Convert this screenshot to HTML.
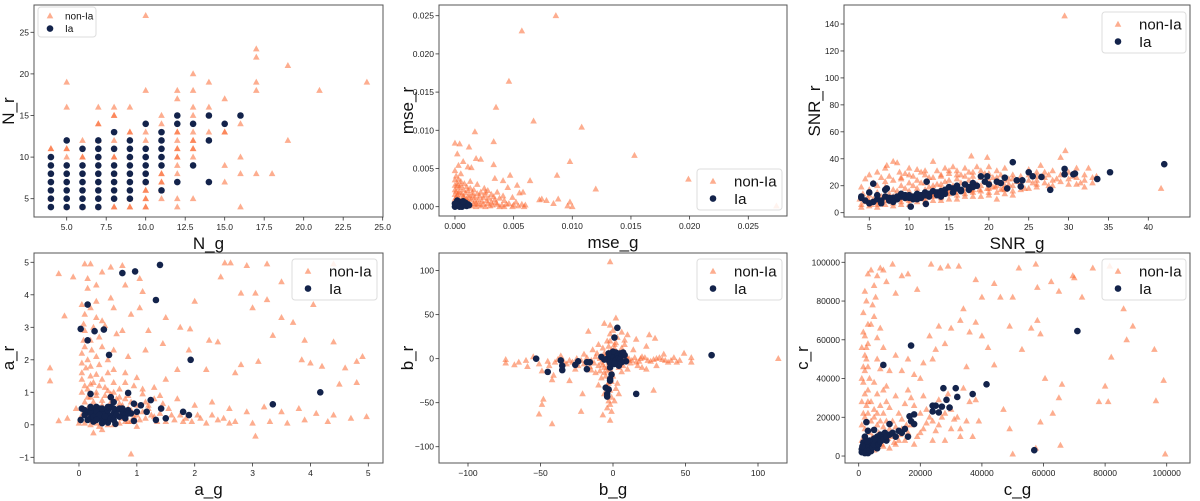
<!DOCTYPE html>
<html><head><meta charset="utf-8">
<style>
html,body{margin:0;padding:0;background:#fff;}
svg{display:block;font-family:"Liberation Sans","DejaVu Sans",sans-serif;}
</style></head>
<body>
<svg id="fig" width="1200" height="501" viewBox="0 0 1200 501"></svg>
<script>
// ---------- Panel 1: N_g vs N_r ----------
const p1NonIa = [[4,11],[5,19],[5,16],[5,11],[5,10],[6,12],[6,10],[7,16],[7,14],[7,12],[7,10],[8,16],[8,15],[8,12],[8,10],[8,4],[9,16],[9,13],[9,4],[10,27],[10,18],[10,13],[10,12],[10,6],[10,5],[10,4],[11,15],[11,14],[11,8],[11,7],[11,5],[12,18],[12,17],[12,13],[12,12],[12,11],[12,10],[12,9],[12,8],[12,5],[12,4],[13,20],[13,18],[13,16],[13,15],[13,13],[13,12],[13,11],[13,10],[13,5],[14,19],[14,16],[14,13],[15,17],[15,13],[15,9],[15,7],[16,14],[16,10],[16,8],[16,4],[17,23],[17,22],[17,19],[17,18],[17,8],[18,8],[19,21],[19,12],[21,18],[24,19],[5,4],[6,4],[7,4],[4,5],[9,5],[10,7],[11,6],[8,8],[9,10],[8,15],[8,4],[9,4],[10,6],[10,5],[11,8],[11,7],[12,13],[12,11],[12,10],[13,11],[13,12],[15,13],[7,14],[6,10],[5,11],[4,11],[8,10],[10,4],[9,13]];
const p1Ia = [[4,4],[4,5],[4,6],[4,7],[4,8],[4,9],[4,10],[5,4],[5,5],[5,6],[5,7],[5,8],[5,9],[5,12],[6,4],[6,5],[6,6],[6,7],[6,8],[6,9],[6,11],[7,4],[7,5],[7,6],[7,7],[7,8],[7,9],[7,10],[7,11],[7,12],[8,5],[8,6],[8,7],[8,8],[8,9],[8,11],[8,13],[9,5],[9,6],[9,7],[9,8],[9,9],[9,10],[9,11],[9,12],[10,7],[10,8],[10,9],[10,10],[10,11],[10,14],[11,6],[11,9],[11,10],[11,11],[11,12],[11,13],[12,7],[12,14],[12,15],[13,9],[13,14],[14,7],[14,12],[14,15],[15,14],[16,15]];
const p1XTicks = [5,7.5,10,12.5,15,17.5,20,22.5,25];
const p1XTickLabels = ["5.0","7.5","10.0","12.5","15.0","17.5","20.0","22.5","25.0"];
const p1YTicks = [5,10,15,20,25];

// ---------- Panel 2: mse_g vs mse_r ----------
const p2NonIa = [[0.0086,0.025],[0.0057,0.023],[0.0046,0.0164],[0.0035,0.013],[0.0067,0.0112],[0.0108,0.0104],[0.0017,0.0098],[0.0033,0.0085],[0.0,0.0083],[0.0004,0.0082],[0.0012,0.0078],[0.0002,0.0069],[0.0153,0.0067],[0.0018,0.0063],[0.0022,0.0062],[0.0007,0.0059],[0.0098,0.0059],[0.0033,0.0055],[0.0003,0.0054],[0.0011,0.0052],[0.0014,0.0051],[0.0,0.0047],[0.0047,0.0041],[0.0087,0.0041],[0.0199,0.0036],[0.0064,0.0034],[0.0041,0.0034],[0.0034,0.0037],[0.012,0.0023],[0.0074,0.001],[0.0072,0.0009],[0.0078,0.0008],[0.0088,0.001],[0.0084,0.0004],[0.0098,0.0006],[0.01,0.0],[0.0096,0.0001],[0.0274,0.0001],[0.0058,0.0019],[0.0055,0.0018],[0.0053,0.0028],[0.0045,0.0025],[0.0049,0.0012],[0.0052,0.0006],[0.006,0.0002],[0.0059,0.0],[0.0049,0.0]];
const p2NonIaDense = [[0.0001,0.004],[0.0003,0.0036],[0.0005,0.0033],[0.0008,0.003],[0.0002,0.003],[0.001,0.0026],[0.0013,0.0024],[0.0016,0.0022],[0.0004,0.0025],[0.0007,0.0022],[0.0001,0.002],[0.0003,0.0018],[0.0006,0.0016],[0.0009,0.0018],[0.0012,0.0015],[0.0015,0.0014],[0.0019,0.0017],[0.0022,0.0019],[0.0025,0.0024],[0.0028,0.0021],[0.0031,0.0016],[0.0024,0.0012],[0.002,0.0009],[0.0017,0.0007],[0.0014,0.0009],[0.001,0.001],[0.0006,0.0008],[0.0003,0.0011],[0.0001,0.0012],[0.0004,0.0004],[0.0008,0.0004],[0.0012,0.0004],[0.0016,0.0003],[0.002,0.0003],[0.0024,0.0003],[0.0028,0.0004],[0.0032,0.0002],[0.0036,0.0003],[0.004,0.0002],[0.0044,0.0003],[0.0034,0.0009],[0.0038,0.0011],[0.0042,0.0008],[0.0027,0.0008],[0.0002,0.0001],[0.0006,0.0001],[0.001,0.0001],[0.0014,0.0001],[0.0018,0.0],[0.0022,0.0001],[0.0026,0.0],[0.003,0.0001],[0.0002,0.0027],[0.0005,0.0043],[0.0013,0.0033],[0.0019,0.0029],[0.0026,0.0015],[0.0036,0.0019],[0.0041,0.0014],[0.0,0.0035],[0.0,0.0028],[0.0,0.0022],[0.0,0.0016],[0.0,0.001],[0.0001,0.0006],[0.0002,0.0015],[0.0004,0.0019],[0.0005,0.0028],[0.0007,0.0013],[0.0009,0.0007],[0.0011,0.0021],[0.0012,0.0011],[0.0015,0.0018],[0.0017,0.0012],[0.0018,0.0004],[0.0021,0.0014],[0.0023,0.0007],[0.0026,0.0019],[0.0029,0.0011],[0.0031,0.0006],[0.0033,0.0013],[0.0035,0.0005],[0.0038,0.0],[0.0042,0.0],[0.0046,0.0004],[0.005,0.0002],[0.0054,0.0001],[0.0057,0.0003],[0.0003,0.0007],[0.0008,0.0012],[0.0006,0.0004],[0.0011,0.0006]];
const p2Ia = [[0.0,0.0],[0.0001,0.0002],[0.0002,0.0005],[0.0003,0.0001],[0.0004,0.0003],[0.0005,0.0006],[0.0006,0.0],[0.0007,0.0004],[0.0008,0.0002],[0.0009,0.0005],[0.001,0.0001],[0.0011,0.0003],[0.0002,0.0008],[0.0,0.0004],[0.0007,0.0007],[0.0004,0.0],[0.0012,0.0002]];
const p2XTicks = [0,0.005,0.01,0.015,0.02,0.025];
const p2XTickLabels = ["0.000","0.005","0.010","0.015","0.020","0.025"];
const p2YTicks = [0,0.005,0.01,0.015,0.02,0.025];
const p2YTickLabels = ["0.000","0.005","0.010","0.015","0.020","0.025"];

// ---------- Panel 3: SNR_g vs SNR_r ----------
const p3NonIa = [[29.5,146],[29.6,46],[29,41],[41.6,18],[17.8,42],[19.8,41],[8,38],[13,38],[4,19],[4.5,25],[5,28],[5.5,22],[6,30],[6.5,26],[7,33],[7.2,35],[7.5,27],[8.5,37],[8.8,30],[9,25],[9.5,29],[10,33],[10.5,27],[11,32],[11.5,30],[12,28],[12.5,26],[13.5,31],[14,27],[14.5,33],[15,29],[15.5,34],[16,31],[16.5,28],[17,33],[17.5,30],[18,27],[18.5,34],[19,31],[19.5,29],[20,34],[20.5,26],[21,31],[21.5,28],[22,33],[22.5,25],[23,28],[24,27],[25,32],[26,30],[26.5,35],[27,26],[28,31],[28.5,25],[29,28],[30,30],[30.5,27],[31,33],[31.5,22],[32,28],[32.5,33],[33,26],[33.5,27],[32,19],[31,21],[27.5,20],[25.5,22],[24,17],[22,20],[20,15],[19,12],[18,17],[16,10],[15,14],[14,9],[13,12],[12,8],[11,10],[10,6],[9,8],[8,5],[7,6],[6,4],[5,5],[4,4]];
const p3NonIaDense = [[4.5,8],[5.5,10],[6.5,12],[7.5,14],[8.5,16],[9.5,18],[10.5,20],[11.5,22],[12.5,19],[13.5,21],[14.5,23],[15.5,20],[16.5,22],[17.5,24],[18.5,21],[19.5,23],[20.5,19],[21.5,17],[22.5,21],[23.5,23],[24.5,18],[26,24],[27.5,28],[23,13],[21,10],[17,12],[15,16],[12,14],[9,11],[6,8],[8,9],[10,12],[11,15],[13,17],[14,18],[16,19],[18,20],[4,6],[5,8],[5,13],[5,17],[6,6],[6,15],[6,20],[7,9],[7,13],[7,19],[7,23],[8,7],[8,12],[8,17],[8,24],[9,6],[9,14],[9,20],[9,26],[10,9],[10,16],[10,22],[10,28],[11,8],[11,12],[11,18],[11,24],[12,10],[12,17],[12,22],[12,31],[13,9],[13,14],[13,20],[13,26],[14,11],[14,15],[14,21],[14,28],[15,10],[15,18],[15,24],[15,31],[16,13],[16,17],[16,25],[16,28],[17,14],[17,18],[17,27],[18,12],[18,15],[18,23],[18,30],[19,16],[19,20],[19,26],[20,13],[20,18],[20,24],[20,29],[21,15],[21,20],[21,26],[22,14],[22,17],[22,24],[23,16],[23,20],[23,25],[24,20],[24,23],[25,18],[25,24],[25,28],[26,19],[26,21],[26,27],[27,22],[27,30],[28,20],[28,24],[29,23],[30,25],[30,21],[31,26],[32,24],[33,22],[3.8,10],[4.2,14],[4.8,11],[5.2,6],[6.2,9],[6.8,11],[7.8,8],[8.8,10],[9.8,10],[10.8,11],[11.8,12],[12.8,13],[13.8,13],[14.8,14],[15.8,15],[16.8,16],[17.8,16],[18.8,17],[19.8,18],[20.8,19],[21.8,18]];
const p3Ia = [[23,37.5],[42,36],[35.2,30],[33.6,25],[29.5,32.5],[29.5,28.5],[30.6,28.5],[30.8,29],[25,30],[25.5,27],[26.6,26.5],[27.7,17],[24,19.5],[10.2,4.5],[5.5,21.5],[12.2,23],[12.1,6.5],[4,11],[4.5,9],[5,15],[5.5,8],[6,10],[6.5,7],[7,12],[7.5,9],[8,11],[8.5,10],[9,12],[9.5,11],[10,13],[10.5,12],[11,14],[11.5,13],[12,15],[12.5,14],[13,16],[13.5,15],[14,16],[14.5,17],[15,19],[15.5,18],[16,20],[16.5,17],[17,21],[17.5,19],[18,22],[18.5,20],[19,27],[19.5,23],[19.8,27],[20,21],[21,23],[21.5,22],[22,26],[22.3,18],[23.5,24],[24.2,24],[9,14],[7,17],[7.2,18],[6,13],[5,7],[14,12],[11,10],[4,12],[6.5,9],[7.5,11],[8.5,12],[9.5,13],[10.5,10],[11.5,11],[12.5,12],[13.5,13],[14.5,14],[15.5,15],[16.5,16],[17.5,17],[8,8],[10,11],[12,13],[14,15],[16,18],[18,19]];
const p3XTicks = [5,10,15,20,25,30,35,40];
const p3YTicks = [0,20,40,60,80,100,120,140];

// ---------- Panel 4: a_g vs a_r ----------
const p4NonIa = [[-0.5,1.75],[-0.5,1.35],[-0.35,4.65],[-0.25,3.35],[-0.1,4.55],[-0.35,0.12],[-0.2,0.2],[-0.05,0.5],[0.1,4.95],[0.2,4.95],[0.15,4.5],[0.3,4.3],[0.4,4.7],[0.55,4.85],[0.75,4.9],[0.8,4.3],[1.05,4.5],[1.1,4.1],[0.55,3.9],[0.2,3.6],[0.3,3.3],[0.45,3.05],[0.6,3.6],[0.75,2.9],[0.9,3.4],[1.05,3.6],[1.2,2.9],[0.35,2.7],[0.1,2.4],[0.3,2.1],[0.6,2.3],[0.85,2.1],[1.15,2.3],[1.45,2.5],[1.5,3.3],[1.75,3.0],[2.0,3.8],[1.92,2.95],[1.9,2.3],[2.25,2.6],[2.4,2.55],[2.45,4.55],[2.52,4.98],[2.62,4.98],[2.9,4.9],[2.8,4.05],[3.0,3.6],[3.05,4.05],[3.25,4.95],[3.25,3.85],[3.35,2.75],[3.5,3.3],[3.5,4.4],[3.7,3.15],[3.85,2.0],[4.05,3.7],[4.4,4.95],[4.4,2.55],[3.9,2.6],[4.2,1.8],[4.6,1.75],[4.8,1.95],[4.9,2.1],[4.8,1.3],[4.5,1.25],[4.0,1.9],[3.1,1.95],[2.7,1.6],[2.8,1.85],[2.2,1.7],[1.7,1.7],[1.5,1.4],[1.3,1.15],[1.0,1.45],[0.8,1.6],[0.5,1.6],[0.2,1.5],[0.05,1.9],[0.1,1.2],[0.3,1.0],[0.6,1.3],[0.85,0.9],[1.15,0.7],[1.4,0.9],[1.7,0.8],[2.0,0.6],[2.3,0.7],[2.6,0.5],[2.9,0.4],[3.2,0.55],[3.5,0.4],[3.8,0.5],[4.1,0.35],[4.4,0.3],[4.7,0.2],[4.97,0.25],[4.3,0.1],[3.9,0.15],[3.6,0.05],[3.3,0.1],[3.0,0.05],[3.05,-0.35],[2.7,0.1],[2.4,0.15],[2.1,0.2],[1.8,0.1],[1.6,0.3],[1.3,0.25],[1.0,0.3],[0.9,-0.9],[0.8,0.1],[0.6,0.0],[0.4,-0.15],[0.25,-0.25]];
const p4NonIaDense = [[0.1,0.7],[0.2,0.85],[0.4,0.75],[0.55,0.95],[0.7,0.65],[1.1,0.95],[0.05,0.3],[0.0,0.05],[0.15,0.5],[0.35,0.45],[0.5,0.35],[0.65,0.45],[0.9,0.45],[1.2,0.5],[0.1,2.9],[0.05,3.7],[0.25,3.0],[0.4,2.4],[0.15,2.0],[0.05,1.0],[0.15,0.85],[0.25,1.3],[0.45,1.15],[0.7,0.85],[0.05,1.4],[0.05,1.6],[0.05,2.2],[0.08,2.6],[0.08,3.1],[0.1,3.4],[0.12,1.75],[0.15,1.1],[0.2,1.25],[0.2,1.8],[0.22,2.3],[0.25,0.7],[0.3,1.55],[0.3,0.9],[0.35,1.2],[0.4,1.4],[0.4,0.6],[0.45,0.9],[0.5,1.05],[0.55,0.7],[0.6,1.0],[0.65,0.8],[0.7,1.1],[0.75,0.6],[0.8,0.8],[0.85,0.5],[0.9,0.7],[0.95,0.25],[1.0,0.6],[1.05,0.15],[1.1,0.4],[1.15,0.2],[1.25,0.3],[1.35,0.1],[1.4,0.35],[1.5,0.1],[1.55,0.5],[1.65,0.15],[1.75,0.3],[1.85,0.2],[1.95,0.1],[2.05,0.3],[2.2,0.05],[2.3,0.3],[2.5,0.2],[2.6,0.05],[0.02,0.15],[0.1,0.05],[0.2,0.0],[0.3,0.05],[0.35,-0.05],[0.5,0.0],[0.55,0.15],[0.7,0.05],[0.75,0.2],[0.85,0.1],[1.0,-0.05],[0.15,0.3],[0.3,0.25],[0.45,0.2],[0.6,0.2],[0.75,0.35],[0.9,0.1],[1.2,0.6],[1.45,0.65],[1.3,0.8],[0.95,1.2],[1.1,1.1],[0.8,1.3],[0.6,1.7],[0.35,1.85],[0.2,2.6],[0.3,3.8],[0.15,4.2],[0.5,2.0],[0.4,3.2],[0.65,2.8]];
const p4Ia = [[0.75,4.67],[0.97,4.72],[1.4,4.92],[1.33,3.84],[0.15,3.7],[0.03,2.95],[0.27,2.88],[0.43,2.93],[0.15,2.6],[0.52,2.15],[1.93,2.0],[4.17,1.0],[3.35,0.63],[0.2,0.95],[0.85,0.98],[1.24,0.76],[1.42,0.5],[1.8,0.4],[1.9,0.3],[1.33,0.15],[1.5,0.2],[0.63,0.03],[0.05,0.5],[0.03,0.15],[0.1,0.3],[0.15,0.4],[0.2,0.2],[0.25,0.45],[0.3,0.3],[0.35,0.5],[0.4,0.2],[0.45,0.4],[0.5,0.3],[0.55,0.55],[0.6,0.35],[0.65,0.45],[0.7,0.25],[0.75,0.4],[0.8,0.3],[0.85,0.45],[0.9,0.35],[0.95,0.65],[1.0,0.4],[1.07,0.6],[1.17,0.4],[0.3,0.55],[0.4,0.05],[0.5,0.07],[0.55,0.85],[0.6,0.7],[0.15,0.15],[0.25,0.1],[0.35,0.2],[0.45,0.15],[0.95,0.12],[0.7,0.5],[0.2,0.35],[0.3,0.4],[0.4,0.35],[0.5,0.45],[0.6,0.5],[0.25,0.25],[0.35,0.3],[0.45,0.25],[0.55,0.2],[0.65,0.3],[0.75,0.5],[0.85,0.35],[0.1,0.45],[0.2,0.55],[0.4,0.5],[0.5,0.55],[0.3,0.15],[0.6,0.15],[0.8,0.2]];
const p4XTicks = [0,1,2,3,4,5];
const p4YTicks = [-1,0,1,2,3,4,5];

// ---------- Panel 5: b_g vs b_r ----------
const p5NonIa = [[-2,110],[-74,-1],[-74,-5],[-68,-7],[-59,-9],[-51,-6],[-49,-14],[-48,-46],[-49,-52],[-51,-63],[-41,-19],[-42,-24],[-42,-74],[-17,31],[-15,-13],[-21,-40],[-22,-60],[-7,-64],[-2,-70],[-1,-60],[2,46],[-2,38],[10,27],[8,21],[16,22],[25,27],[29,23],[23,14],[49,6],[54,1],[54,-4],[40,-2],[36,-2],[28,-36],[23,-12],[114,0],[-30,-25],[-10,-30],[-6,-40],[4,-40],[-3,-48]];
const p5NonIaDense = [[-60,-2],[-45,-3],[-38,-1],[-30,-2],[-25,0],[-20,-6],[-15,-2],[-12,2],[-10,-8],[-8,-4],[-6,6],[-4,-10],[-2,3],[0,-5],[2,8],[4,-3],[6,12],[8,2],[10,-1],[12,-5],[15,1],[18,-3],[20,2],[24,-2],[28,-1],[32,1],[30,-8],[20,-10],[14,10],[-4,20],[-2,28],[-3,14],[1,16],[3,24],[-5,-20],[-3,-28],[-2,-36],[-6,-16],[-12,-16],[-14,10],[-20,5],[-32,-6],[-36,3],[-44,-8],[-26,-12],[-8,-22],[-1,-44],[3,-28],[6,-15],[10,-12],[-10,16],[6,30],[-6,40],[0,32],[35,5],[44,-4],[17,-8],[-55,2],[-65,-4],[-40,-4],[-34,-3],[-28,-4],[-22,-2],[-18,1],[-13,-5],[-9,0],[-7,-7],[-5,4],[-3,-4],[-1,0],[1,-2],[3,2],[5,-6],[7,5],[9,3],[11,0],[13,-2],[16,-4],[19,0],[22,1],[26,-3],[30,0],[34,-1],[38,-4],[42,1],[46,-2],[-1,10],[-3,7],[1,12],[-2,20],[2,18],[-4,-14],[-2,-12],[0,-20],[-1,-26],[-4,-30],[2,-34],[-6,-10],[-9,-14],[4,-10],[7,-8],[-16,-9],[-24,-8],[-11,6],[8,16],[-7,12],[-2,-52],[1,-48],[-4,-56]];
const p5Ia = [[-53,0],[-45,-15],[-36,-2],[-35,-8],[-35,-13],[-26,-7],[-24,-3],[-18,-4],[-18,-12],[-16,-4],[-8,2],[-3,-2],[-2,-10],[3,35],[1,24],[-1,-18],[-2,-23],[-2,-25],[-5,-33],[-4,-40],[-4,-43],[-3,-35],[16,-40],[68,4],[9,-3],[4,-8],[0,0],[1,3],[2,-2],[3,5],[4,1],[5,6],[6,3],[7,7],[8,4],[-1,4],[-2,-5],[-4,0],[-6,-1],[1,-6],[2,7],[5,-1],[0,8],[-3,6],[6,-4]];
const p5XTicks = [-100,-50,0,50,100];
const p5YTicks = [-100,-50,0,50,100];

// ---------- Panel 6: c_g vs c_r ----------
const p6NonIa = [[2000,85000],[1500,74000],[3000,94000],[4000,96000],[5000,88000],[6000,93000],[7000,97000],[8000,96000],[9000,90000],[11000,99000],[12000,84000],[14000,93000],[16000,94000],[19000,86000],[23500,99000],[26500,97000],[29000,98000],[32500,98000],[34000,76000],[38000,91000],[40000,82000],[44000,89000],[46000,82000],[50000,82000],[52000,97000],[57500,99000],[58000,87000],[62500,90000],[65000,85000],[69500,93000],[70000,92000],[72500,82000],[76000,97000],[81500,98000],[86000,76000],[89000,67000],[87000,60000],[82000,51000],[96000,55000],[99000,39000],[80000,36000],[81000,28000],[78000,28000],[96500,28500],[99500,1000],[65000,30000],[66000,37000],[63000,22000],[60500,40000],[59000,63000],[58000,70000],[56000,66000],[53000,55000],[49000,67000],[47000,24000],[50000,1000],[49000,14000],[57500,4000],[59000,17500],[65500,5500],[44000,47000],[42000,56000],[40000,62000],[38000,69000],[36000,64000],[35000,46000],[33000,70000],[30000,66000],[28000,58000],[26000,67000],[25000,55000],[24000,50000],[23000,62000],[21000,48000],[20000,40000],[18000,42000],[16000,50000],[14000,44000],[12000,52000],[10000,44000],[9000,36000],[8000,56000],[7000,66000],[6000,61000],[5000,72000],[4000,68000],[3000,58000],[2500,50000],[2000,44000],[1500,38000],[1000,56000],[1500,64000]];
const p6NonIaDense = [[3000,34000],[4000,28000],[5000,38000],[6000,32000],[7000,26000],[8000,22000],[9000,28000],[10000,25000],[11000,18000],[12000,31000],[13000,22000],[15000,27000],[16000,34000],[17000,30000],[18000,26000],[20000,22000],[21000,31000],[22000,17000],[23000,20000],[25000,13000],[26000,29000],[27000,20000],[29000,32000],[30000,24000],[31000,19000],[33000,14000],[34000,35000],[36000,28000],[38000,29000],[39000,18000],[37000,10000],[33000,10000],[28000,8000],[24000,8000],[20000,12000],[15000,8000],[12000,6000],[8000,5000],[5000,3000],[3000,2000],[1000,8000],[2000,20000],[1000,28000],[3500,12000],[6000,16000],[9000,11000],[14000,14000],[18000,6000],[4000,4500],[7000,9000],[2000,14000],[3000,22000],[1000,16000],[5000,20000],[10000,4000],[1000,40000],[1500,46000],[2000,52000],[2500,56000],[3000,46000],[3500,40000],[2000,32000],[2500,26000],[1500,22000],[3000,28000],[4000,18000],[5000,24000],[6000,22000],[7000,18000],[8000,15000],[9000,18000],[10000,14000],[11000,10000],[12000,15000],[13000,8000],[14000,19000],[16000,12000],[17000,16000],[19000,10000],[21000,14000],[22000,24000],[24000,18000],[26000,16000],[28000,22000],[30000,14000],[32000,20000],[35000,18000],[4500,10000],[6500,12000],[8500,8000],[2500,9000],[1500,5000],[3500,6000],[5500,7000],[7500,6000],[9500,9000],[11500,7000],[13500,11000],[15500,16000],[2000,62000],[3000,68000],[4500,78000],[5500,82000],[2500,80000],[7000,45000],[8000,34000],[6000,50000]];
const p6Ia = [[8000,47000],[17000,57000],[71000,64500],[41500,37000],[37000,32000],[31500,35000],[27500,35000],[32000,30500],[28500,29000],[24000,26000],[25000,26000],[27000,25500],[29500,25000],[24000,23000],[26000,22500],[57000,3000],[18000,21500],[16500,20500],[17000,18000],[18000,16500],[16000,10000],[10000,16500],[2500,17500],[5000,13500],[3000,13000],[1000,2000],[1500,4000],[2000,3000],[2500,6000],[3000,4000],[3500,8000],[4000,5000],[4500,7000],[5000,9000],[5500,6000],[6000,10000],[6500,8000],[7000,11000],[7500,9000],[8000,10000],[8500,12000],[9000,8000],[10000,11000],[11000,12000],[12000,10000],[13000,13000],[14000,12000],[15000,14000],[2000,10000],[1500,7000],[3000,1500],[4000,2500],[6000,4000],[2000,5500],[1000,3500],[1500,2500],[2000,1500],[2500,3500],[3000,5500],[3500,3000],[4000,7000],[4500,4500],[5000,6000],[5500,8000],[6500,6000],[7000,7500],[8000,8500],[9000,10000],[1200,5000],[2800,7500]];
const p6XTicks = [0,20000,40000,60000,80000,100000];
const p6YTicks = [0,20000,40000,60000,80000,100000];

// ---------- rendering ----------
const NS = "http://www.w3.org/2000/svg";
const svg = document.getElementById("fig");
function mk(tag, attrs, parent){
  const e = document.createElementNS(NS, tag);
  for (const k in attrs) e.setAttribute(k, attrs[k]);
  (parent||svg).appendChild(e);
  return e;
}
function linear(d0,d1,r0,r1){ return v => r0 + (v-d0)/(d1-d0)*(r1-r0); }

function panel(cfg){
  const g = mk("g",{});
  
  
  const {L,T,R,B} = cfg.box;
  const sx = linear(cfg.xd[0],cfg.xd[1],L,R);
  const sy = linear(cfg.yd[0],cfg.yd[1],B,T);
  const ptsG = mk("g",{},g);
  
  
  cfg.non.forEach(p=>{
    const x=sx(p[0]), y=sy(p[1]);
    const t = mk("polygon",{points:`${x},${y-3.6} ${x-3.3},${y+2.4} ${x+3.3},${y+2.4}`,fill:"#fb6a33","fill-opacity":"0.55"},ptsG);
    
    
  });
  const iaG = mk("g",{},g);
  
  
  cfg.ia.forEach(p=>{
    const c = mk("circle",{cx:sx(p[0]),cy:sy(p[1]),r:3.3,fill:"#13234b"},iaG);
    
    
  });
  const fr = mk("rect",{x:L,y:T,width:R-L,height:B-T,fill:"none",stroke:"#555","stroke-width":1},g);
  
  
  cfg.xt.forEach((v,i)=>{
    const x=sx(v);
    mk("line",{x1:x,y1:B,x2:x,y2:B+3.5,stroke:"#333","stroke-width":0.8},g);
    const t=mk("text",{x:x,y:B+13,"font-size":8.5,"text-anchor":"middle",fill:"#222"},g);
    t.textContent = cfg.xtl ? cfg.xtl[i] : String(v).replace("-","\u2212");
    
    
  });
  cfg.yt.forEach((v,i)=>{
    const y=sy(v);
    mk("line",{x1:L-3.5,y1:y,x2:L,y2:y,stroke:"#333","stroke-width":0.8},g);
    const t=mk("text",{x:L-5,y:y+3,"font-size":8.5,"text-anchor":"end",fill:"#222"},g);
    t.textContent = cfg.ytl ? cfg.ytl[i] : String(v).replace("-","\u2212");
    
    
  });
  const xl=mk("text",{x:(L+R)/2,y:B+32,"font-size":17,"text-anchor":"middle",fill:"#111"},g);
  xl.textContent=cfg.xlab;
  
  
  const yx = cfg.ylx, yy=(T+B)/2;
  const yl=mk("text",{x:yx,y:yy,"font-size":17,"text-anchor":"middle",fill:"#111",transform:`rotate(-90 ${yx} ${yy})`},g);
  yl.textContent=cfg.ylab;
  
  
  const lg = cfg.leg;
  const lgG = mk("g",{},g);
  
  
  mk("rect",{x:lg.x,y:lg.y,width:lg.w,height:lg.h,rx:3,fill:"#fff","fill-opacity":0.85,stroke:"#ddd","stroke-width":1},lgG);
  const fs=lg.fs, mx=lg.x+lg.mx, r1=lg.y+lg.h*0.3, r2=lg.y+lg.h*0.72;
  mk("polygon",{points:`${mx},${r1-3.6} ${mx-3.3},${r1+2.4} ${mx+3.3},${r1+2.4}`,fill:"#fb6a33","fill-opacity":"0.55"},lgG);
  mk("circle",{cx:mx,cy:r2,r:3.3,fill:"#13234b"},lgG);
  const e1=mk("text",{x:lg.x+lg.tx,y:r1+fs*0.35,"font-size":fs,fill:"#111"},lgG);
  e1.textContent="non-Ia";
  
  
  const e2=mk("text",{x:lg.x+lg.tx,y:r2+fs*0.35,"font-size":fs,fill:"#111"},lgG);
  e2.textContent="Ia";
  
  
}

panel({name:"panel-n",box:{L:34,T:5,R:383,B:217},xd:[2.93,25.02],yd:[2.8,28.28],non:p1NonIa,ia:p1Ia,xt:p1XTicks,xtl:p1XTickLabels,yt:p1YTicks,xlab:"N_g",ylab:"N_r",ylx:14,leg:{x:38,y:7,w:58,h:30,fs:10,mx:12,tx:27}});
panel({name:"panel-mse",box:{L:439,T:5,R:787,B:216},xd:[-0.00136,0.0283],yd:[-0.00122,0.0264],non:p2NonIa.concat(p2NonIaDense),ia:p2Ia,xt:p2XTicks,xtl:p2XTickLabels,yt:p2YTicks,ytl:p2YTickLabels,xlab:"mse_g",ylab:"mse_r",ylx:413,leg:{x:697,y:169,w:85,h:41,fs:15,mx:16,tx:37}});
panel({name:"panel-snr",box:{L:844,T:5,R:1190,B:217},xd:[1.83,45.23],yd:[-3.2,154.1],non:p3NonIa.concat(p3NonIaDense),ia:p3Ia,xt:p3XTicks,yt:p3YTicks,xlab:"SNR_g",ylab:"SNR_r",ylx:820,leg:{x:1102,y:12,w:84,h:41,fs:15,mx:16,tx:37}});
panel({name:"panel-a",box:{L:34,T:253,R:383,B:463},xd:[-0.777,5.254],yd:[-1.175,5.286],non:p4NonIa.concat(p4NonIaDense),ia:p4Ia,xt:p4XTicks,yt:p4YTicks,xlab:"a_g",ylab:"a_r",ylx:14,leg:{x:292,y:259,w:85,h:41,fs:15,mx:16,tx:37}});
panel({name:"panel-b",box:{L:439,T:253,R:787,B:463},xd:[-120,120],yd:[-118.5,120],non:p5NonIa.concat(p5NonIaDense),ia:p5Ia,xt:p5XTicks,yt:p5YTicks,xlab:"b_g",ylab:"b_r",ylx:413,leg:{x:697,y:259,w:85,h:41,fs:15,mx:16,tx:37}});
panel({name:"panel-c",box:{L:845,T:253,R:1190,B:463},xd:[-4450,107560],yd:[-3600,104800],non:p6NonIa.concat(p6NonIaDense),ia:p6Ia,xt:p6XTicks,yt:p6YTicks,xlab:"c_g",ylab:"c_r",ylx:808,leg:{x:1102,y:259,w:84,h:41,fs:15,mx:16,tx:37}});
</script>
</body></html>
